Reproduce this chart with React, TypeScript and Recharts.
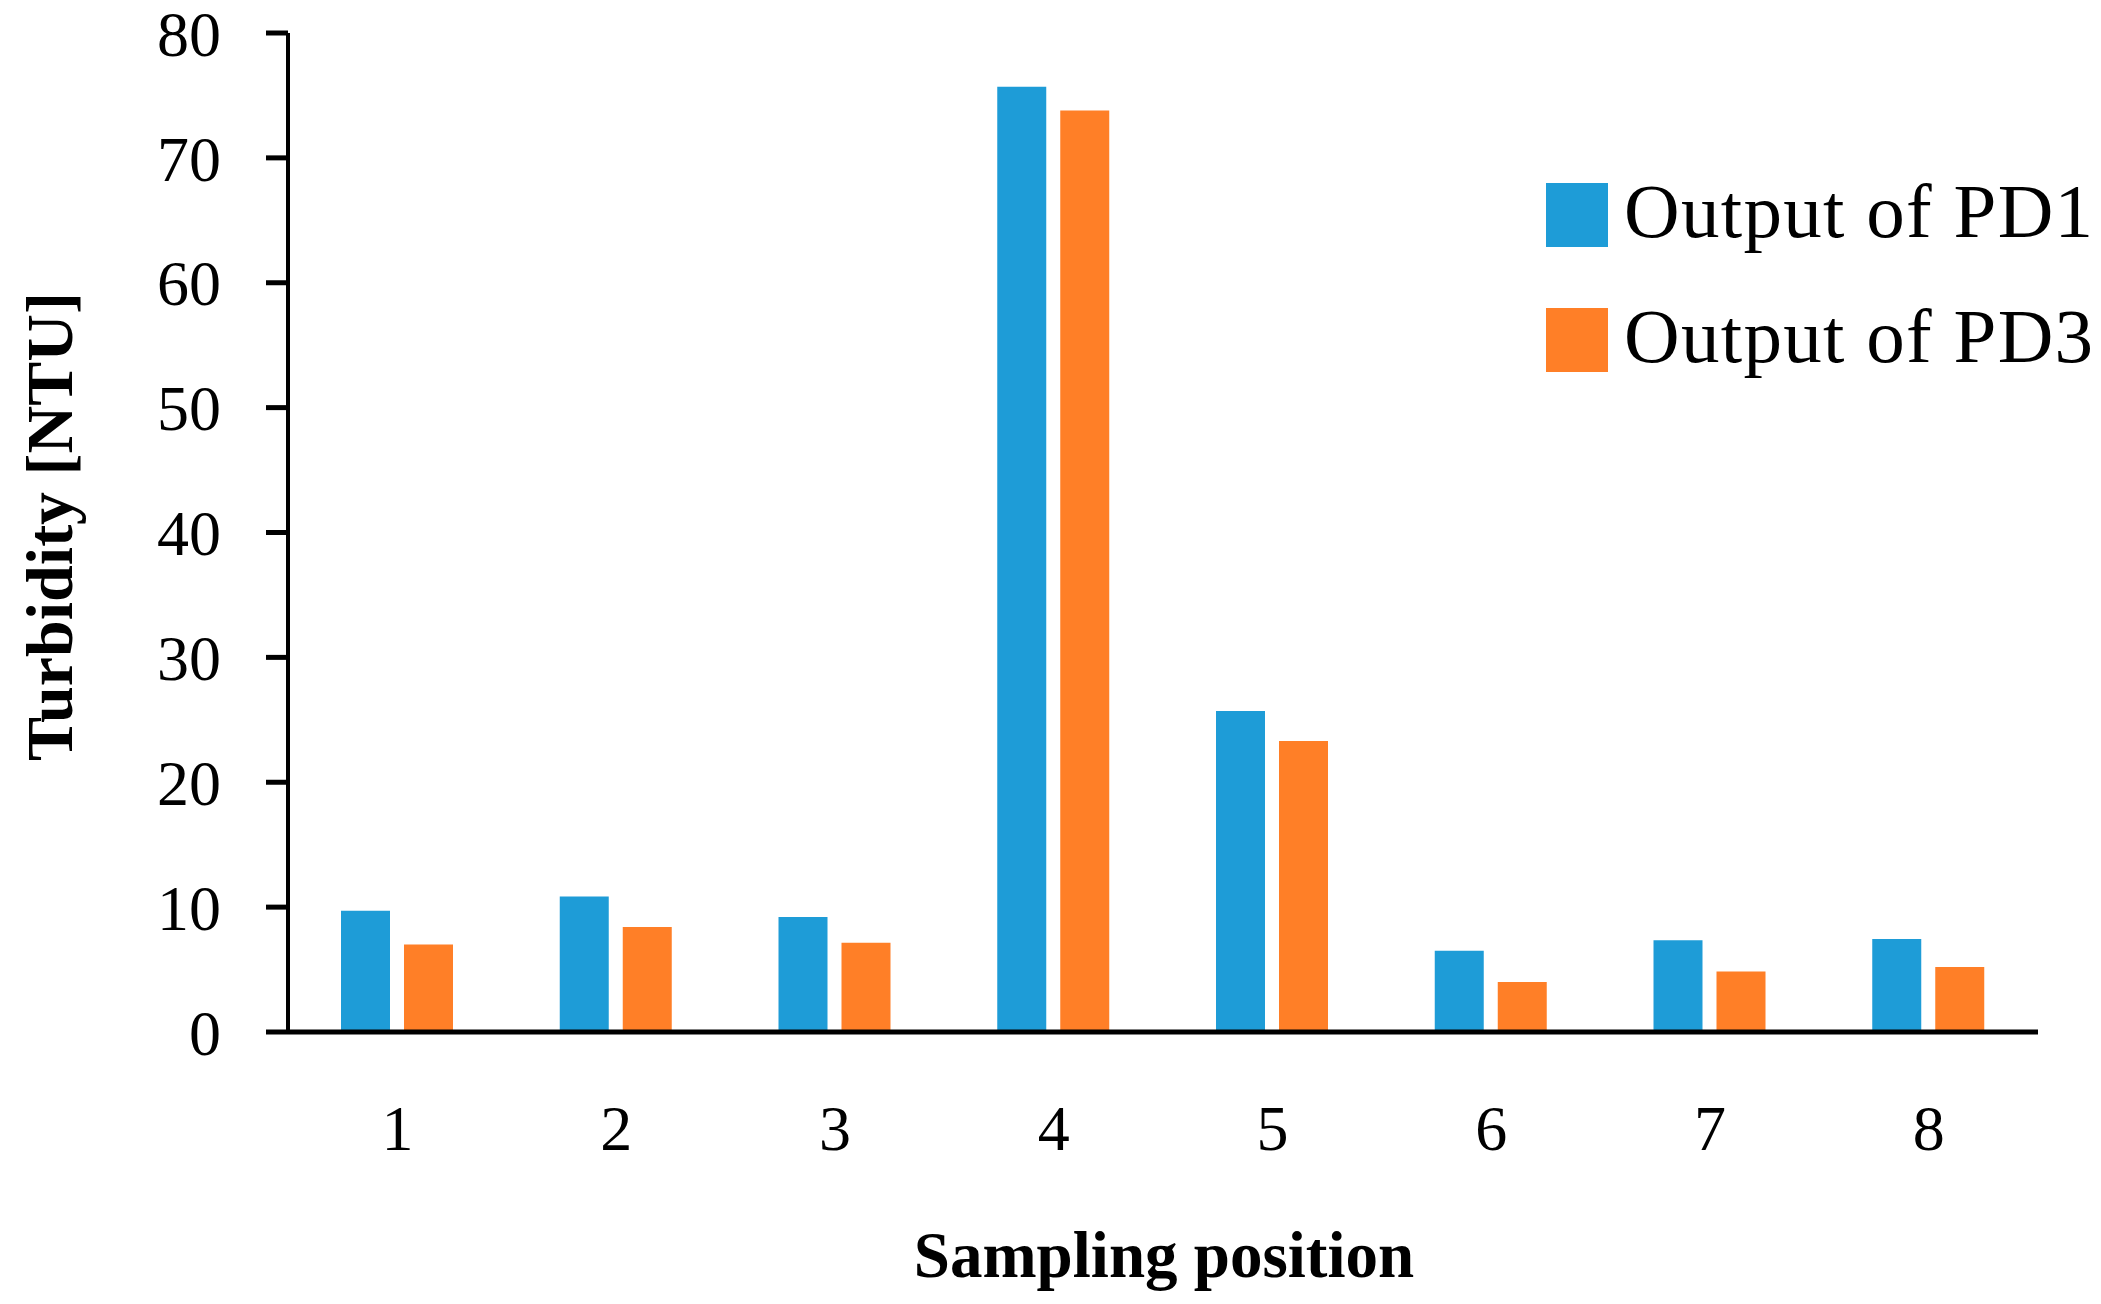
import React from 'react';
import { BarChart, Bar, XAxis, YAxis, Legend } from 'recharts';

const categories = ['1', '2', '3', '4', '5', '6', '7', '8'];
const pd1Values = [9.7, 10.85, 9.2, 75.7, 25.7, 6.5, 7.35, 7.45];
const pd3Values = [7.0, 8.4, 7.15, 73.8, 23.3, 4.0, 4.85, 5.2];
const yTicks = [0, 10, 20, 30, 40, 50, 60, 70, 80];

const seriesNames = { pd1: 'Output of PD1', pd3: 'Output of PD3' };
const colors = { pd1: '#1E9CD7', pd3: '#FF7F27' };

const data = categories.map((c, i) => ({ name: c, pd1: pd1Values[i], pd3: pd3Values[i] }));

const FONT = '"Liberation Serif", "Times New Roman", serif';

const renderLegend = (props: any) => {
  const payload = props.payload || [];
  return (
    <svg width={550} height={200} overflow="visible" style={{ display: 'block', overflow: 'visible' }}>
      {payload.map((entry: any, i: number) => (
        <g key={entry.value} transform={`translate(0, ${i * 125})`}>
          <rect x={0} y={0} width={62} height={64} fill={entry.color} />
          <text x={78} y={54} fontFamily={FONT} fontSize={77} letterSpacing={1.3} fill="#000">
            {entry.value}
          </text>
        </g>
      ))}
    </svg>
  );
};

const YLabel = (props: any) => {
  const vb = props.viewBox || { x: 0, y: 0, width: 0, height: 0 };
  const x = vb.x + 72;
  const y = vb.y + vb.height / 2 - 6;
  return (
    <text
      x={x}
      y={y}
      transform={`rotate(-90, ${x}, ${y})`}
      textAnchor="middle"
      fontFamily={FONT}
      fontWeight="bold"
      fontSize={66}
      fill="#000"
    >
      Turbidity [NTU]
    </text>
  );
};

const XLabel = (props: any) => {
  const vb = props.viewBox || { x: 0, y: 0, width: 0, height: 0 };
  const x = vb.x + vb.width / 2 + 1;
  const y = vb.y + 245;
  return (
    <text x={x} y={y} textAnchor="middle" fontFamily={FONT} fontWeight="bold" fontSize={65} fill="#000">
      Sampling position
    </text>
  );
};

export default function App() {
  return (
    <div style={{ position: 'absolute', left: 0, top: 0, width: 2101, height: 1304, background: '#fff' }}>
      <BarChart
        width={2101}
        height={1304}
        data={data}
        margin={{ top: 33, right: 63, bottom: 0, left: 0 }}
        barSize={49}
        barGap={14}
      >
        <XAxis
          dataKey="name"
          height={272}
          axisLine={{ stroke: '#000', strokeWidth: 5 }}
          tickLine={false}
          tickSize={0}
          tickMargin={73}
          tick={{ fill: '#000', fontSize: 64, fontFamily: FONT }}
          label={{ content: XLabel }}
        />
        <YAxis
          width={288}
          domain={[0, 80]}
          ticks={yTicks}
          interval={0}
          axisLine={{ stroke: '#000', strokeWidth: 4 }}
          tickLine={{ stroke: '#000', strokeWidth: 5 }}
          tickSize={22}
          tickMargin={45}
          tick={{ fill: '#000', fontSize: 64, fontFamily: FONT }}
          label={{ content: YLabel }}
        />
        <Legend
          layout="horizontal"
          verticalAlign="middle"
          align="center"
          content={renderLegend}
          wrapperStyle={{ left: 1546, top: 183, width: 550, height: 200 }}
        />
        <Bar dataKey="pd1" name={seriesNames.pd1} fill={colors.pd1} isAnimationActive={false} />
        <Bar dataKey="pd3" name={seriesNames.pd3} fill={colors.pd3} isAnimationActive={false} />
      </BarChart>
    </div>
  );
}
